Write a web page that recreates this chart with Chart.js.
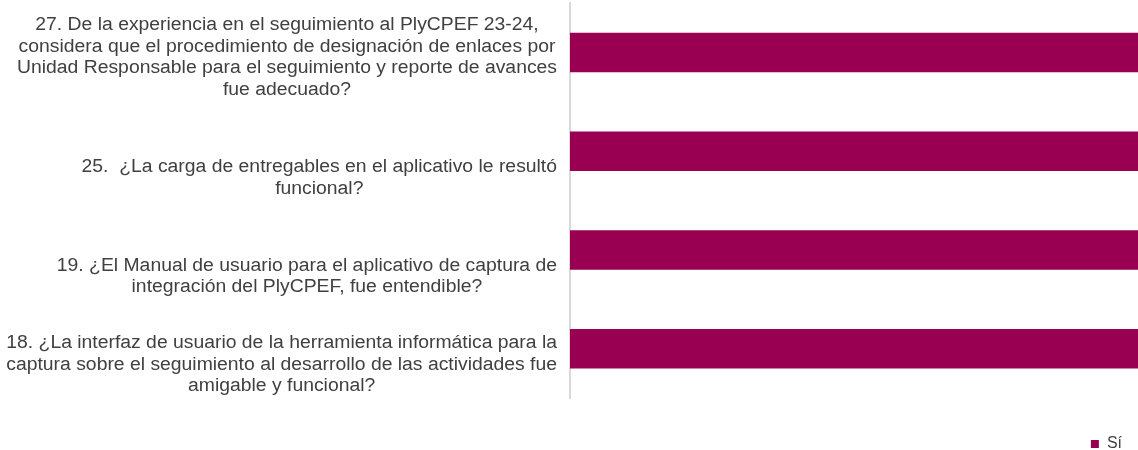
<!DOCTYPE html>
<html lang="es">
<head>
<meta charset="utf-8">
<script src="https://cdn.jsdelivr.net/npm/chart.js@4.4.1/dist/chart.umd.min.js"></script>
<style>
  html, body { margin: 0; padding: 0; background: #fff; }
  #wrap { width: 1138px; height: 450px; }
</style>
</head>
<body>
<div id="wrap"><canvas id="grafico"></canvas></div>
<script>
// === DATOS ===
// preguntas (una línea de texto por elemento)
const preguntas = [
  ["27. De la experiencia en el seguimiento al PlyCPEF 23-24,",
   "considera que el procedimiento de designación de enlaces por",
   "Unidad Responsable para el seguimiento y reporte de avances",
   "fue adecuado?"],
  ["25.  ¿La carga de entregables en el aplicativo le resultó",
   "funcional?"],
  ["19. ¿El Manual de usuario para el aplicativo de captura de",
   "integración del PlyCPEF, fue entendible?"],
  ["18. ¿La interfaz de usuario de la herramienta informática para la",
   "captura sobre el seguimiento al desarrollo de las actividades fue",
   "amigable y funcional?"]
];
const serie = "Sí";
const valoresSi = [100, 100, 100, 100];
const maximo = 100;

const fuente = "'Liberation Sans', Arial, sans-serif";

// === ETIQUETAS DE LAS PREGUNTAS (texto centrado, bloque alineado a la derecha) ===
const etiquetasPreguntas = {
  id: "etiquetasPreguntas",
  afterDraw(chart) {
    const ctx = chart.ctx;
    const y = chart.scales.y;
    const banda = y.height / preguntas.length;
    const derecha = chart.chartArea.left - 13;
    const sx = 1.075;   // el texto original está algo ensanchado
    const alto = 21.5;  // interlineado
    ctx.save();
    ctx.font = "18px " + fuente;
    ctx.fillStyle = "#404040";
    ctx.textAlign = "center";
    ctx.textBaseline = "alphabetic";
    preguntas.forEach((lineas, i) => {
      const fondo = y.getPixelForValue(i) + banda / 2 - 7;
      const ancho = Math.max(...lineas.map((l) => ctx.measureText(l).width)) * sx;
      const cx = derecha - ancho / 2;
      lineas.forEach((l, k) => {
        const by = fondo - (lineas.length - 1 - k) * alto;
        ctx.save();
        ctx.translate(cx, by);
        ctx.scale(sx, 1);
        ctx.fillText(l, 0, 0);
        ctx.restore();
      });
    });
    ctx.restore();
  }
};

new Chart(document.getElementById("grafico"), {
  type: "bar",
  data: {
    labels: preguntas,
    datasets: [{
      label: serie,
      data: valoresSi,
      backgroundColor: "#990052",
      barPercentage: 0.4,
      categoryPercentage: 1
    }]
  },
  options: {
    indexAxis: "y",
    responsive: true,
    maintainAspectRatio: false,
    animation: false,
    layout: { padding: { top: 3, right: 0, bottom: -12, left: 0 } },
    plugins: {
      legend: {
        position: "bottom",
        align: "end",
        labels: {
          boxWidth: 8,
          boxHeight: 8,
          padding: 16,
          color: "#404040",
          font: { size: 16, family: fuente }
        }
      },
      tooltip: { enabled: false }
    },
    scales: {
      x: {
        min: 0,
        max: maximo,
        grid: { display: false },
        border: { display: false },
        ticks: { display: false },
        afterFit: (s) => { s.height = 22; }
      },
      y: {
        grid: { display: false },
        border: { color: "#d9d9d9", width: 2 },
        ticks: { display: false },
        afterFit: (s) => { s.width = 570; }
      }
    }
  },
  plugins: [etiquetasPreguntas]
});
</script>
</body>
</html>
